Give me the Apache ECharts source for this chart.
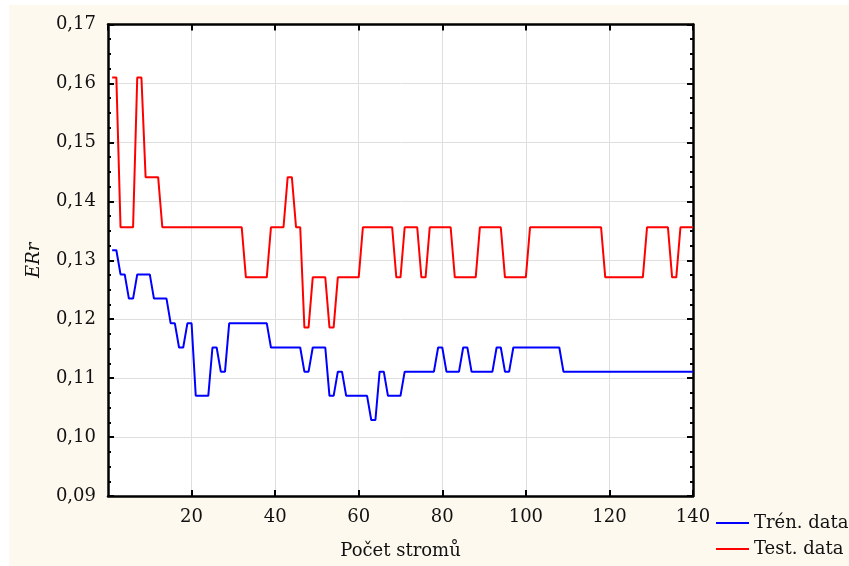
<!DOCTYPE html>
<html>
<head>
<meta charset="utf-8">
<script src="https://cdn.jsdelivr.net/npm/echarts@6/dist/echarts.min.js"></script>
<style>
  html, body { margin: 0; padding: 0; background: #ffffff; }
  #panel { position: absolute; left: 9px; top: 5px; width: 840px; height: 561px; background: #fdf9ef; }
  #chart { position: absolute; left: 0; top: 0; width: 849px; height: 566px; }
</style>
</head>
<body>
<div id="panel"></div>
<div id="chart"></div>
<script>
// Number of trees in the ensemble (x axis)
const treeCounts = [];
for (let n = 1; n <= 140; n++) treeCounts.push(n);

// Error rate on the training data
const trainErr = [
  0.1317, 0.1317, 0.1276, 0.1276, 0.1235, 0.1235, 0.1276, 0.1276, 0.1276, 0.1276,
  0.1235, 0.1235, 0.1235, 0.1235, 0.1193, 0.1193, 0.1152, 0.1152, 0.1193, 0.1193,
  0.1070, 0.1070, 0.1070, 0.1070, 0.1152, 0.1152, 0.1111, 0.1111, 0.1193, 0.1193,
  0.1193, 0.1193, 0.1193, 0.1193, 0.1193, 0.1193, 0.1193, 0.1193, 0.1152, 0.1152,
  0.1152, 0.1152, 0.1152, 0.1152, 0.1152, 0.1152, 0.1111, 0.1111, 0.1152, 0.1152,
  0.1152, 0.1152, 0.1070, 0.1070, 0.1111, 0.1111, 0.1070, 0.1070, 0.1070, 0.1070,
  0.1070, 0.1070, 0.1029, 0.1029, 0.1111, 0.1111, 0.1070, 0.1070, 0.1070, 0.1070,
  0.1111, 0.1111, 0.1111, 0.1111, 0.1111, 0.1111, 0.1111, 0.1111, 0.1152, 0.1152,
  0.1111, 0.1111, 0.1111, 0.1111, 0.1152, 0.1152, 0.1111, 0.1111, 0.1111, 0.1111,
  0.1111, 0.1111, 0.1152, 0.1152, 0.1111, 0.1111, 0.1152, 0.1152, 0.1152, 0.1152,
  0.1152, 0.1152, 0.1152, 0.1152, 0.1152, 0.1152, 0.1152, 0.1152, 0.1111, 0.1111,
  0.1111, 0.1111, 0.1111, 0.1111, 0.1111, 0.1111, 0.1111, 0.1111, 0.1111, 0.1111,
  0.1111, 0.1111, 0.1111, 0.1111, 0.1111, 0.1111, 0.1111, 0.1111, 0.1111, 0.1111,
  0.1111, 0.1111, 0.1111, 0.1111, 0.1111, 0.1111, 0.1111, 0.1111, 0.1111, 0.1111
];

// Error rate on the test data
const testErr = [
  0.1610, 0.1610, 0.1356, 0.1356, 0.1356, 0.1356, 0.1610, 0.1610, 0.1441, 0.1441,
  0.1441, 0.1441, 0.1356, 0.1356, 0.1356, 0.1356, 0.1356, 0.1356, 0.1356, 0.1356,
  0.1356, 0.1356, 0.1356, 0.1356, 0.1356, 0.1356, 0.1356, 0.1356, 0.1356, 0.1356,
  0.1356, 0.1356, 0.1271, 0.1271, 0.1271, 0.1271, 0.1271, 0.1271, 0.1356, 0.1356,
  0.1356, 0.1356, 0.1441, 0.1441, 0.1356, 0.1356, 0.1186, 0.1186, 0.1271, 0.1271,
  0.1271, 0.1271, 0.1186, 0.1186, 0.1271, 0.1271, 0.1271, 0.1271, 0.1271, 0.1271,
  0.1356, 0.1356, 0.1356, 0.1356, 0.1356, 0.1356, 0.1356, 0.1356, 0.1271, 0.1271,
  0.1356, 0.1356, 0.1356, 0.1356, 0.1271, 0.1271, 0.1356, 0.1356, 0.1356, 0.1356,
  0.1356, 0.1356, 0.1271, 0.1271, 0.1271, 0.1271, 0.1271, 0.1271, 0.1356, 0.1356,
  0.1356, 0.1356, 0.1356, 0.1356, 0.1271, 0.1271, 0.1271, 0.1271, 0.1271, 0.1271,
  0.1356, 0.1356, 0.1356, 0.1356, 0.1356, 0.1356, 0.1356, 0.1356, 0.1356, 0.1356,
  0.1356, 0.1356, 0.1356, 0.1356, 0.1356, 0.1356, 0.1356, 0.1356, 0.1271, 0.1271,
  0.1271, 0.1271, 0.1271, 0.1271, 0.1271, 0.1271, 0.1271, 0.1271, 0.1356, 0.1356,
  0.1356, 0.1356, 0.1356, 0.1356, 0.1271, 0.1271, 0.1356, 0.1356, 0.1356, 0.1356
];

const seriesNames = ['Trén. data', 'Test. data'];
const xTitle = 'Počet stromů';
const yTitle = 'ERr';

const FONT = 'DejaVu Serif';
const FONT_SIZE = 18;
const TEXT_COLOR = '#111111';
const axisLineStyle = { color: '#000000', width: 2.5 };
const tickStyle = { color: '#000000', width: 2 };
const gridLineStyle = { color: '#dedede', width: 1 };

function pairs(values) {
  return values.map((v, i) => [treeCounts[i], v]);
}

// one legend block per series, stacked under each other at the lower right
function legendEntry(name, top) {
  return {
    orient: 'vertical',
    left: 716,
    top: top,
    padding: 0,
    icon: 'rect',
    itemWidth: 33,
    itemHeight: 2,
    textStyle: { fontFamily: FONT, fontSize: FONT_SIZE, color: TEXT_COLOR },
    data: [name]
  };
}

const chart = echarts.init(document.getElementById('chart'), null, { renderer: 'canvas' });

chart.setOption({
  backgroundColor: 'transparent',
  animation: false,
  grid: {
    left: 108, top: 24.5, width: 585, height: 471.5,
    containLabel: false,
    show: true, backgroundColor: '#ffffff', borderWidth: 0
  },
  legend: [
    legendEntry(seriesNames[0], 514),
    legendEntry(seriesNames[1], 540)
  ],
  xAxis: [
    {
      type: 'value',
      min: 0, max: 140, interval: 20,
      position: 'bottom',
      name: xTitle,
      nameLocation: 'middle',
      nameGap: 46,
      nameTextStyle: { fontFamily: FONT, fontSize: FONT_SIZE, color: TEXT_COLOR },
      axisLine: { onZero: false, lineStyle: axisLineStyle },
      axisTick: { inside: true, length: 6, lineStyle: tickStyle },
      axisLabel: {
        showMinLabel: false,
        margin: 12,
        fontFamily: FONT, fontSize: FONT_SIZE, color: TEXT_COLOR
      },
      splitLine: { show: true, lineStyle: gridLineStyle }
    },
    {
      type: 'value',
      min: 0, max: 140, interval: 20,
      position: 'top',
      axisLine: { onZero: false, lineStyle: axisLineStyle },
      axisTick: { inside: true, length: 6, lineStyle: tickStyle },
      axisLabel: { show: false },
      splitLine: { show: false }
    }
  ],
  yAxis: [
    {
      type: 'value',
      min: 0.09, max: 0.17, interval: 0.01,
      position: 'left',
      name: yTitle,
      nameLocation: 'middle',
      nameGap: 65,
      nameRotate: 90,
      nameTextStyle: { fontFamily: FONT, fontSize: FONT_SIZE, fontStyle: 'italic', color: TEXT_COLOR },
      axisLine: { onZero: false, lineStyle: axisLineStyle },
      axisTick: { inside: true, length: 6, lineStyle: tickStyle },
      minorTick: { show: true, splitNumber: 4, length: 3, lineStyle: tickStyle },
      axisLabel: {
        margin: 12,
        fontFamily: FONT, fontSize: FONT_SIZE, color: TEXT_COLOR,
        formatter: v => v.toFixed(2).replace('.', ',')
      },
      splitLine: { show: true, lineStyle: gridLineStyle }
    },
    {
      type: 'value',
      min: 0.09, max: 0.17, interval: 0.01,
      position: 'right',
      axisLine: { onZero: false, lineStyle: axisLineStyle },
      axisTick: { inside: true, length: 6, lineStyle: tickStyle },
      minorTick: { show: true, splitNumber: 4, length: 3, lineStyle: tickStyle },
      axisLabel: { show: false },
      splitLine: { show: false }
    }
  ],
  series: [
    {
      name: seriesNames[0],
      type: 'line',
      data: pairs(trainErr),
      showSymbol: false,
      symbol: 'none',
      lineStyle: { color: '#0000ff', width: 2 },
      itemStyle: { color: '#0000ff' },
      z: 3
    },
    {
      name: seriesNames[1],
      type: 'line',
      data: pairs(testErr),
      showSymbol: false,
      symbol: 'none',
      lineStyle: { color: '#ff0000', width: 2 },
      itemStyle: { color: '#ff0000' },
      z: 3
    }
  ]
});
</script>
</body>
</html>
